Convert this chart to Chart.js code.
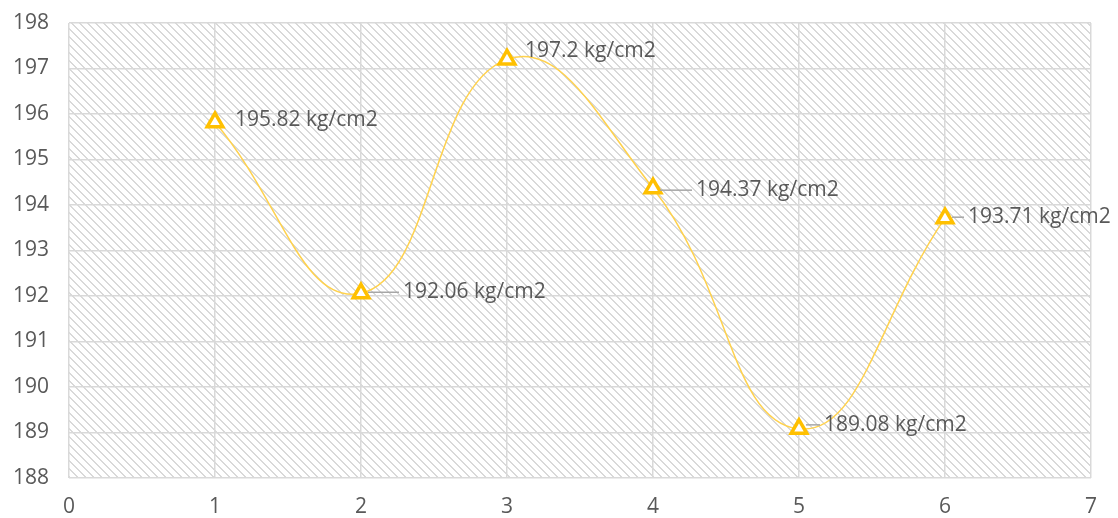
<!DOCTYPE html>
<html>
<head>
<meta charset="utf-8">
<script src="https://cdn.jsdelivr.net/npm/chart.js@4/dist/chart.umd.min.js"></script>
<style>
  html, body { margin: 0; padding: 0; background: #fff; }
  #wrap { width: 1118px; height: 518px; }
</style>
</head>
<body>
<div id="wrap"><canvas id="chart" width="1118" height="518"></canvas></div>
<script>
// data
const xValues = [1, 2, 3, 4, 5, 6];
const yValues = [195.82, 192.06, 197.2, 194.37, 189.08, 193.71];
const unitLabel = 'kg/cm2';
const xTicks = [0, 1, 2, 3, 4, 5, 6, 7];
const yTicks = [188, 189, 190, 191, 192, 193, 194, 195, 196, 197, 198];

// label placement relative to its point (px), leader line or not
const labelOffsets = [
    { dx: 20, dy: -2, leader: false },
    { dx: 42, dy: -1, leader: true },
    { dx: 18, dy: -8, leader: false },
    { dx: 43, dy: 2, leader: true },
    { dx: 25, dy: -4, leader: true },
    { dx: 23, dy: -1, leader: true }
];

const FONT = '"Open Sans", Lato, sans-serif';
const TEXT = '#595959';
const GRID = '#d9d9d9';

const makeHatch = () => {
    const c = document.createElement('canvas');
    c.width = 8;
    c.height = 8;
    const g = c.getContext('2d');
    g.fillStyle = '#ffffff';
    g.fillRect(0, 0, 8, 8);
    g.fillStyle = '#d9d9d9';
    for (let y = 0; y < 8; y++) {
        for (let x = 0; x < 8; x++) {
            const d = ((x - y) % 8 + 8) % 8;
            if (d === 0 || d === 1) g.fillRect(x, y, 1, 1);
        }
    }
    return c;
};

const hatchPlugin = {
    id: 'hatch',
    beforeDraw(chart) {
        const { ctx, chartArea } = chart;
        ctx.save();
        ctx.fillStyle = ctx.createPattern(makeHatch(), 'repeat');
        ctx.fillRect(chartArea.left, chartArea.top, chartArea.right - chartArea.left, chartArea.bottom - chartArea.top);
        ctx.restore();
    }
};

const labelPlugin = {
    id: 'pointLabels',
    afterDatasetsDraw(chart) {
        const { ctx } = chart;
        const meta = chart.getDatasetMeta(0);
        ctx.save();
        ctx.font = '21px ' + FONT;
        ctx.textBaseline = 'middle';
        ctx.textAlign = 'left';
        meta.data.forEach((pt, i) => {
            const off = labelOffsets[i];
            const tx = pt.x + off.dx;
            const ty = pt.y + off.dy;
            if (off.leader) {
                ctx.strokeStyle = '#a6a6a6';
                ctx.lineWidth = 1.5;
                ctx.beginPath();
                ctx.moveTo(pt.x + 7, ty);
                ctx.lineTo(tx - 4, ty);
                ctx.stroke();
            }
            ctx.fillStyle = TEXT;
            ctx.fillText(yValues[i] + ' ' + unitLabel, tx, ty);
        });
        ctx.restore();
    }
};

new Chart(document.getElementById('chart'), {
    type: 'scatter',
    data: {
        datasets: [{
            data: xValues.map((x, i) => ({ x: x, y: yValues[i] })),
            showLine: true,
            tension: 0.45,
            borderColor: '#ffd24d',
            borderWidth: 1.5,
            pointStyle: 'triangle',
            pointRadius: 9,
            pointBorderWidth: 3.5,
            pointBorderColor: '#ffc000',
            pointBackgroundColor: '#ffffff'
        }]
    },
    options: {
        responsive: false,
        animation: false,
        layout: { padding: { top: 23, right: 27, left: 0, bottom: 0 } },
        plugins: {
            legend: { display: false },
            tooltip: { enabled: false }
        },
        scales: {
            x: {
                type: 'linear',
                min: xTicks[0],
                max: xTicks[xTicks.length - 1],
                afterBuildTicks: (s) => { s.ticks = xTicks.map(v => ({ value: v })); },
                afterFit: (s) => { s.height = 40; s.paddingLeft = 0; s.paddingRight = 0; },
                border: { display: false },
                grid: { color: GRID, lineWidth: 1.5, drawTicks: false },
                ticks: { color: TEXT, font: { family: FONT, size: 21 }, padding: 16 }
            },
            y: {
                min: yTicks[0],
                max: yTicks[yTicks.length - 1],
                afterBuildTicks: (s) => { s.ticks = yTicks.map(v => ({ value: v })); },
                afterFit: (s) => { s.width = 69; s.paddingTop = 0; s.paddingBottom = 0; },
                border: { display: false },
                grid: { color: GRID, lineWidth: 1.5, drawTicks: false },
                ticks: { color: TEXT, font: { family: FONT, size: 21 }, padding: 20 }
            }
        }
    },
    plugins: [hatchPlugin, labelPlugin]
});
</script>
</body>
</html>
